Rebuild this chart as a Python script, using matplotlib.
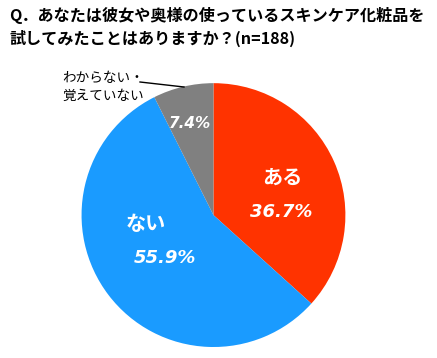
import matplotlib as mpl
from matplotlib import pyplot as plt

labels = ['ある', 'ない', 'わからない・\n覚えていない']
values = [36.7, 55.9, 7.4]
colors = ['#FF3300', '#1A9BFF', '#808080']

title = 'Q．あなたは彼女や奥様の使っているスキンケア化粧品を\n試してみたことはありますか？(n=188)'

W, H = 437, 358
jp = ['Noto Sans CJK JP', 'DejaVu Sans']
mpl.rcParams['font.family'] = jp


def fx(x):
    return x / W


def fy(y):
    return 1 - y / H


fig = plt.figure(figsize=(W / 100, H / 100), dpi=100)
ax = fig.add_axes([0.1865, 0.0307, 0.604, 0.737])
ax.pie(values, colors=colors, startangle=90, counterclock=False,
       wedgeprops=dict(linewidth=0))
ax.set_xlim(-1, 1)
ax.set_ylim(-1, 1)
ax.set_aspect('equal')

fig.text(fx(9), fy(15), title.split('\n')[0], fontsize=11.6, fontweight='bold',
         va='center', ha='left')
fig.text(fx(9), fy(38), title.split('\n')[1], fontsize=11.6, fontweight='bold',
         va='center', ha='left')

# inside labels
fig.text(fx(282), fy(177), labels[0], color='white', fontsize=14.5,
         fontweight='bold', ha='center', va='center')
fig.text(fx(281), fy(212), '%.1f%%' % values[0], color='white', fontsize=13,
         fontweight='bold', style='italic', family='DejaVu Sans',
         ha='center', va='center')
fig.text(fx(146), fy(224), labels[1], color='white', fontsize=14.5,
         fontweight='bold', ha='center', va='center')
fig.text(fx(165), fy(258), '%.1f%%' % values[1], color='white', fontsize=13,
         fontweight='bold', style='italic', family='DejaVu Sans',
         ha='center', va='center')
fig.text(fx(190), fy(124), '%.1f%%' % values[2], color='white', fontsize=11,
         fontweight='bold', style='italic', family='DejaVu Sans',
         ha='center', va='center')

# outside label with leader
fig.text(fx(62), fy(87), labels[2], color='black', fontsize=9.8,
         ha='left', va='center', linespacing=1.3)
fig.add_artist(plt.Line2D([fx(140), fx(184)], [fy(82), fy(87)],
                          color='black', linewidth=1))

fig.savefig('out.png', dpi=100, facecolor='white')
